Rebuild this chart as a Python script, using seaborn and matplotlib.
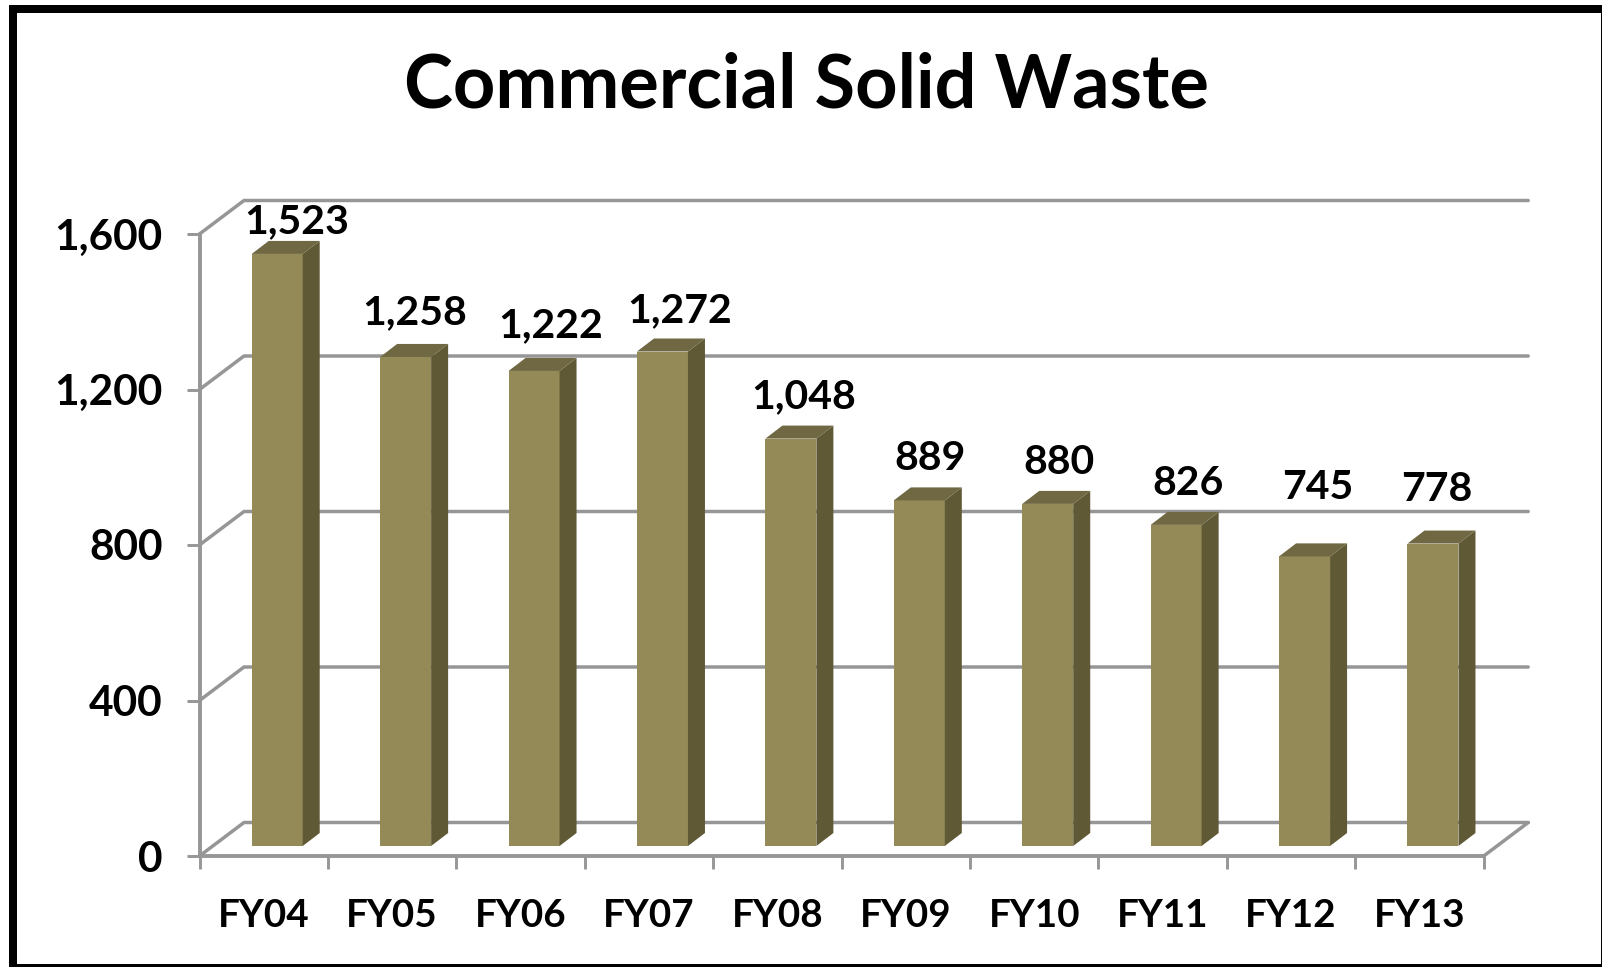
import seaborn as sns
import matplotlib.pyplot as plt
from matplotlib.patches import Polygon, Rectangle

# values
years = ['FY04', 'FY05', 'FY06', 'FY07', 'FY08', 'FY09', 'FY10', 'FY11', 'FY12', 'FY13']
waste = [1523, 1258, 1222, 1272, 1048, 889, 880, 826, 745, 778]
y_ticks = [0, 400, 800, 1200, 1600]

# labels sit by hand in the original, so each one gets its own nudge (pixels)
label_dx = [19, 9, 17, 17, 13, 11, 11, 12, 13, 4]
label_dy = [32, 44, 45, 41, 42, 42, 41, 41, 69, 54]

W, H = 1602, 967
LEFT, RIGHT, TOP, BOTTOM = 199.5, 1483.7, 234, 856
GREY = '#969696'

sns.set_style('white')
plt.rcParams['font.family'] = ['Lato', 'DejaVu Sans']

fig = plt.figure(figsize=(W / 100, H / 100), dpi=100)
ax = fig.add_axes([LEFT / W, 1 - BOTTOM / H, (RIGHT - LEFT) / W, (BOTTOM - TOP) / H])

# front faces of the bars
sns.barplot(x=years, y=waste, ax=ax, color='#948A58', saturation=1, width=0.397,
            errorbar=None, zorder=3, linewidth=0, edgecolor='none')
ax.set_xlim(-0.5, 9.5)
ax.set_ylim(0, 1600)

# pixel sizes turned into data units
px_x = (RIGHT - LEFT) / 10
px_y = (BOTTOM - TOP) / 1600
wall_x, wall_y = 44.5 / px_x, 33.5 / px_y
depth_x, depth_y = 17 / px_x, 13 / px_y
floor = 10 / px_y
shift = 13.5 / px_x

# walls and floor
for v in y_ticks:
    ax.plot([-0.5, -0.5 + wall_x, 9.5 + wall_x], [v, v + wall_y, v + wall_y],
            color=GREY, lw=2.5, clip_on=False, zorder=1, solid_joinstyle='miter')
ax.plot([9.5, 9.5 + wall_x], [0, wall_y], color=GREY, lw=2.5, clip_on=False, zorder=1)
ax.plot([-0.5, 9.5], [0, 0], color=GREY, lw=2.8, clip_on=False, zorder=2)
ax.plot([-0.5, -0.5], [0, 1600], color=GREY, lw=2.8, clip_on=False, zorder=2)

# lift the bars off the floor and add side and top faces
for i, bar in enumerate(ax.patches):
    bar.set_x(bar.get_x() + shift)
    bar.set_y(floor)
    bar.set_clip_on(False)
    x0 = bar.get_x()
    x1 = x0 + bar.get_width()
    y0 = floor
    y1 = floor + waste[i]
    ax.add_patch(Polygon([(x1, y0), (x1 + depth_x, y0 + depth_y), (x1 + depth_x, y1 + depth_y), (x1, y1)],
                         facecolor='#5F5936', edgecolor='none', clip_on=False, zorder=3))
    ax.add_patch(Polygon([(x0, y1), (x0 + depth_x, y1 + depth_y), (x1 + depth_x, y1 + depth_y), (x1, y1)],
                         facecolor='#706843', edgecolor='none', clip_on=False, zorder=3))
    ax.annotate(f'{waste[i]:,}', xy=((x0 + x1) / 2, y1), xytext=(label_dx[i] * 0.72, label_dy[i] * 0.72),
                textcoords='offset points', ha='center', va='center', fontsize=29.5,
                fontweight='bold', color='black', zorder=5, annotation_clip=False)

sns.despine(ax=ax, left=True, bottom=True, top=True, right=True)

ax.set_yticks(y_ticks)
ax.set_yticklabels([f'{v:,}' for v in y_ticks])
ax.set_xticks([i - 0.5 for i in range(11)])
ax.set_xticklabels([])
ax.set_xticks(range(10), labels=years, minor=True)
ax.tick_params(axis='y', length=9.5, width=2.1, color=GREY, pad=17, labelsize=30.5, left=True)
ax.tick_params(axis='x', which='major', length=9.5, width=2.1, color=GREY, bottom=True)
ax.tick_params(axis='x', which='minor', length=0, pad=30, labelsize=27.8, bottom=False)
for t in ax.get_yticklabels() + ax.get_xticklabels(minor=True):
    t.set_fontweight('bold')
    t.set_color('black')
ax.set_xlabel('')
ax.set_ylabel('')

fig.text(806 / W, 1 - 86 / H, 'Commercial Solid Waste', ha='center', va='center',
         fontsize=53.2, fontweight='bold', color='black')

# black frame round the picture
frame = [(9, 5, 8, 962), (9, 5, 1593, 8), (9, 964, 1593, 3), (1601, 5, 1, 962)]
for x, y, w, h in frame:
    fig.add_artist(Rectangle((x / W, 1 - (y + h) / H), w / W, h / H, transform=fig.transFigure,
                             facecolor='black', edgecolor='none'))

fig.savefig('out.png', dpi=100)
